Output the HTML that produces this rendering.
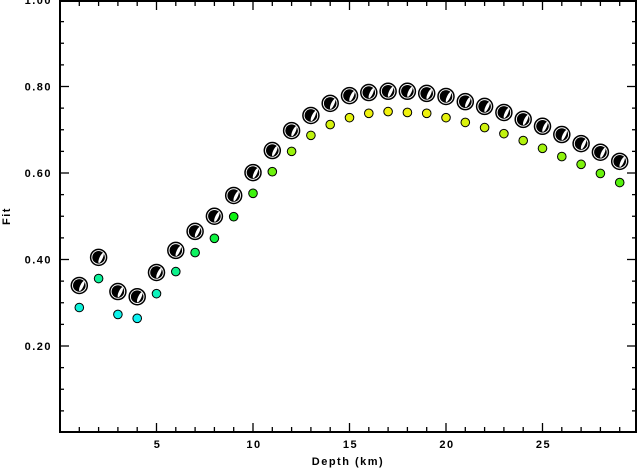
<!DOCTYPE html>
<html><head><meta charset="utf-8"><style>
body{margin:0;background:#fff}
text{font-family:"Liberation Sans",sans-serif;font-weight:bold;font-size:11px;letter-spacing:1.5px;fill:#000}
</style></head><body>
<svg id="chart" width="637" height="468" xmlns="http://www.w3.org/2000/svg">
<rect x="60" y="1" width="576" height="431" fill="none" stroke="#000" stroke-width="2"/>
<g id="ticks"></g><g id="marks"></g>
<text x="348" y="465" text-anchor="middle">Depth (km)</text>
<text transform="translate(10,216) rotate(-90)" text-anchor="middle">Fit</text>
</svg>
<script>
const depths=[1,2,3,4,5,6,7,8,9,10,11,12,13,14,15,16,17,18,19,20,21,22,23,24,25,26,27,28,29];
const mechFit=[0.340,0.405,0.326,0.314,0.370,0.421,0.465,0.500,0.548,0.601,0.652,0.698,0.733,0.761,0.779,0.786,0.789,0.789,0.784,0.777,0.765,0.754,0.740,0.724,0.708,0.689,0.668,0.648,0.627];
const dotFit=[0.289,0.356,0.273,0.264,0.321,0.372,0.416,0.449,0.499,0.553,0.603,0.650,0.687,0.712,0.728,0.738,0.742,0.740,0.738,0.728,0.717,0.705,0.691,0.675,0.657,0.638,0.620,0.599,0.578];
const xTicks=[5,10,15,20,25];
const yTicks=["0.20","0.40","0.60","0.80","1.00"];
const NS="http://www.w3.org/2000/svg";
const X=d=>60+d*19.3, Y=f=>432.5-f*432.5;
function mk(t,a,p){const e=document.createElementNS(NS,t);for(const k in a)e.setAttribute(k,a[k]);p.appendChild(e);return e;}
const tg=document.getElementById('ticks'), mg=document.getElementById('marks'), svg=document.getElementById('chart');
for(let d=1;d<=29;d++){const big=d%5==0;const x=X(d);
 mk('line',{x1:x,y1:432,x2:x,y2:big?423:427,stroke:'#000','stroke-width':1.3},tg);
 mk('line',{x1:x,y1:1,x2:x,y2:big?10:6,stroke:'#000','stroke-width':1.3},tg);}
xTicks.forEach(v=>{const t=mk('text',{x:X(v)+1,y:448,'text-anchor':'middle'},svg);t.textContent=v;
 
 });
for(let i=1;i<20;i++){const f=i*0.05;const big=i%4==0;const y=Y(f);
 mk('line',{x1:60,y1:y,x2:big?69:64,y2:y,stroke:'#000','stroke-width':1.3},tg);
 mk('line',{x1:636,y1:y,x2:big?627:632,y2:y,stroke:'#000','stroke-width':1.3},tg);}
yTicks.forEach(s=>{const t=mk('text',{x:52,y:Y(+s)+4,'text-anchor':'end'},svg);t.textContent=s;
 
 });
const mn=Math.min(...dotFit), mx=Math.max(...dotFit);
depths.forEach((d,i)=>{
 const h=180-120*(dotFit[i]-mn)/(mx-mn);
 const c=mk('circle',{cx:X(d),cy:Y(dotFit[i]),r:4.3,fill:`hsl(${h},90%,50%)`,stroke:'#000','stroke-width':1},mg);
 
 
 const g=mk('g',{transform:`translate(${X(d)},${Y(mechFit[i])})`},mg);
 
 
 mk('circle',{r:8,fill:'#fff',stroke:'#000','stroke-width':1.5},g);
 mk('circle',{r:6.3,fill:'#000'},g);
 mk('ellipse',{cx:2.5,cy:-0.5,rx:1.6,ry:5.5,fill:'#fff',transform:'rotate(25)'},g);
});
</script>
</body></html>
